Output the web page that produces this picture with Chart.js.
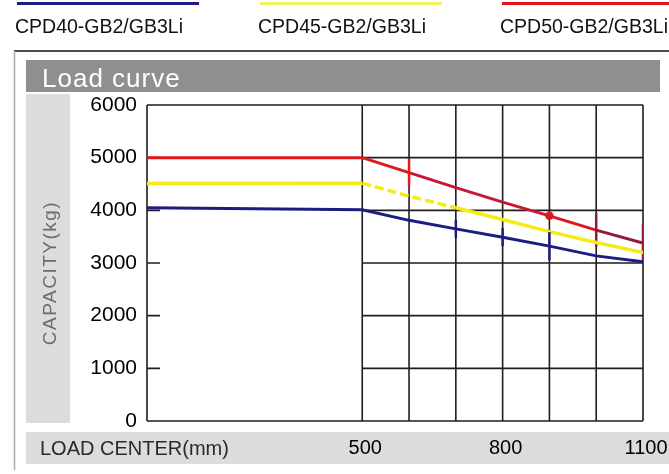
<!DOCTYPE html>
<html>
<head>
<meta charset="utf-8">
<script src="https://cdn.jsdelivr.net/npm/chart.js@4.4.0/dist/chart.umd.min.js"></script>
<style>
  html, body { margin: 0; padding: 0; background: #fff; }
  #wrap { width: 669px; height: 474px; }
</style>
</head>
<body>
<div id="wrap"><canvas id="loadChart" width="669" height="474"></canvas></div>
<script>
// load centre (mm) and rated capacity (kg)
const loadCenters = [0, 500, 600, 700, 800, 900, 1000, 1100];
const cpd40 = [4055, 4010, 3810, 3648, 3490, 3320, 3135, 3025];
const cpd45 = [4510, 4515, 4270, 4048, 3825, 3595, 3390, 3200];
const cpd50 = [5000, 5000, 4715, 4432, 4155, 3895, 3625, 3380];
const seriesNames = ['CPD40-GB2/GB3Li', 'CPD45-GB2/GB3Li', 'CPD50-GB2/GB3Li'];
const yTicks = [0, 1000, 2000, 3000, 4000, 5000, 6000];
const xGridTicks = [500, 600, 700, 800, 900, 1000, 1100];
const xTickLabels = [500, 800, 1100];

const toPoints = vals => vals.map((v, i) => ({ x: loadCenters[i], y: v }));

const redSegColors = ['#e8141c', '#e01820', '#c81832', '#c41a36', '#cc1834', '#e2161e', '#921a3c'];
// little vertical marks seen on the scanned curve
const blueMarks = [0, 0, 0, 9, 9, 14, 0, 0];
const redMarks = [0, 0, 14, 0, 0, 3, 17, 19];
const redMarkColors = ['#e8141c', '#e8141c', '#e01820', '#e8141c', '#e8141c', '#e01820', '#921a3c', '#921a3c'];

const FONT = '"Liberation Sans", Arial, sans-serif';

// panel, title bar, grey strips and legend
const panelPlugin = {
    id: 'panel',
    beforeDraw(chart, args, opts) {
        const { ctx, width, height } = chart;
        ctx.save();
        ctx.fillStyle = '#fff';
        ctx.fillRect(0, 0, width, height);

        // frame
        ctx.strokeStyle = '#111';
        ctx.lineWidth = 1.5;
        ctx.beginPath();
        ctx.moveTo(14, 51);
        ctx.lineTo(width, 51);
        ctx.stroke();
        ctx.strokeStyle = '#a8a8a8';
        ctx.beginPath();
        ctx.moveTo(14.5, 51);
        ctx.lineTo(14.5, 470);
        ctx.stroke();

        // title bar
        ctx.fillStyle = '#8f8f8f';
        ctx.fillRect(26, 60, 634, 32);
        ctx.fillStyle = '#fff';
        ctx.font = '26px ' + FONT;
        ctx.letterSpacing = '1px';
        ctx.textBaseline = 'alphabetic';
        ctx.fillText('Load curve', 42, 87);

        // y strip
        ctx.fillStyle = '#dcdcdc';
        ctx.fillRect(26, 94, 44, 329);
        ctx.save();
        ctx.translate(56, 273);
        ctx.rotate(-Math.PI / 2);
        ctx.fillStyle = '#6c6c6c';
        ctx.font = '19px ' + FONT;
        ctx.letterSpacing = '1.5px';
        ctx.textAlign = 'center';
        ctx.fillText('CAPACITY(kg)', 0, 0);
        ctx.restore();

        // x band
        ctx.fillStyle = '#dcdcdc';
        ctx.fillRect(26, 432, width - 26, 32);
        ctx.fillStyle = '#2a2a2a';
        ctx.font = '20px ' + FONT;
        ctx.letterSpacing = '0px';
        ctx.textAlign = 'left';
        ctx.fillText('LOAD CENTER(mm)', 40, 455);

        // legend: a line above each name
        chart.data.datasets.forEach((ds, i) => {
            const x0 = opts.legendX[i];
            ctx.strokeStyle = opts.legendColors[i];
            ctx.lineWidth = 3;
            ctx.beginPath();
            ctx.moveTo(x0 + 2, 3.5);
            ctx.lineTo(Math.min(x0 + 184, width), 3.5);
            ctx.stroke();
            ctx.fillStyle = '#111';
            ctx.font = '19.5px ' + FONT;
            ctx.fillText(ds.label, x0, 33);
        });
        ctx.restore();
    },
    beforeDatasetsDraw(chart) {
        const { ctx, scales: { x, y }, chartArea: a } = chart;
        ctx.save();
        ctx.strokeStyle = '#1e1e1e';
        ctx.lineWidth = 1.6;
        const x500 = x.getPixelForValue(500);
        ctx.beginPath();
        yTicks.forEach(v => {
            const py = y.getPixelForValue(v);
            if (v === 0 || v === 6000) {
                ctx.moveTo(a.left, py); ctx.lineTo(a.right, py);
            } else {
                ctx.moveTo(x500, py); ctx.lineTo(a.right, py);
                ctx.moveTo(a.left, py); ctx.lineTo(a.left + 13, py);
            }
        });
        ctx.moveTo(a.left, a.top); ctx.lineTo(a.left, a.bottom);
        xGridTicks.forEach(v => {
            const px = x.getPixelForValue(v);
            ctx.moveTo(px, a.top); ctx.lineTo(px, a.bottom);
        });
        ctx.stroke();
        ctx.restore();
    }
};
Chart.register(panelPlugin);

const ctx = document.getElementById('loadChart').getContext('2d');
new Chart(ctx, {
    type: 'line',
    data: {
        datasets: [
            {
                label: seriesNames[0], data: toPoints(cpd40), borderColor: '#1c1c82', borderWidth: 3, tension: 0,
                pointStyle: 'line', rotation: 90, pointRadius: blueMarks, pointBorderWidth: 2.5, pointBorderColor: '#1c1c82'
            },
            {
                label: seriesNames[1], data: toPoints(cpd45), borderColor: '#f4ec18', borderWidth: 3.5, pointRadius: 0, tension: 0,
                segment: { borderDash: c => (c.p0DataIndex === 1 || c.p0DataIndex === 2) ? [9, 4] : [] }
            },
            {
                label: seriesNames[2], data: toPoints(cpd50), borderColor: '#e8141c', borderWidth: 3, tension: 0,
                pointStyle: redMarks.map(r => r === 3 ? 'circle' : 'line'),
                rotation: 90, pointRadius: redMarks, pointBorderWidth: 2.5,
                pointBorderColor: redMarkColors, pointBackgroundColor: redMarkColors,
                segment: { borderColor: c => redSegColors[c.p0DataIndex] }
            }
        ]
    },
    options: {
        responsive: false,
        animation: false,
        events: [],
        layout: { padding: { left: 67, right: 26, top: 105, bottom: 0 } },
        scales: {
            x: {
                type: 'linear',
                min: 40,
                max: 1100,
                afterBuildTicks: s => { s.ticks = xGridTicks.map(v => ({ value: v })); },
                afterFit: s => { s.height = 53; s.paddingLeft = 0; s.paddingRight = 0; },
                grid: { display: false, drawTicks: false },
                border: { display: false },
                ticks: {
                    autoSkip: false,
                    maxRotation: 0,
                    padding: 15,
                    labelOffset: 3,
                    color: '#000',
                    font: { family: FONT, size: 20 },
                    callback: v => xTickLabels.includes(v) ? String(v) : ''
                }
            },
            y: {
                min: 0,
                max: 6000,
                afterBuildTicks: s => { s.ticks = yTicks.map(v => ({ value: v })); },
                afterFit: s => { s.width = 80; s.paddingTop = 0; s.paddingBottom = 0; },
                grid: { display: false, drawTicks: false },
                border: { display: false },
                ticks: {
                    padding: 10,
                    color: '#000',
                    font: { family: FONT, size: 21 },
                    callback: v => String(v)
                }
            }
        },
        plugins: {
            legend: { display: false },
            tooltip: { enabled: false },
            panel: {
                legendX: [15, 258, 500],
                legendColors: ['#1c1c82', '#f4f060', '#e8141c']
            }
        }
    }
});
</script>
</body>
</html>
